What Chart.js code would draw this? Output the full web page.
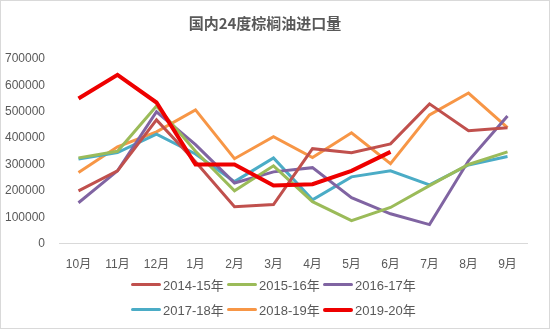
<!DOCTYPE html>
<html>
<head>
<meta charset="utf-8">
<script src="https://cdn.jsdelivr.net/npm/chart.js@4"></script>
<style>
  html, body { margin: 0; padding: 0; background: #fff; }
  #wrap {
    position: relative; width: 550px; height: 329px; box-sizing: border-box;
    border: 1px solid #d9d9d9; font-family: "Liberation Sans", "Noto Sans CJK SC", sans-serif;
  }
  #chart { position: absolute; left: 0; top: 0; }
  #legend {
    position: absolute; left: 0; top: 274px; width: 548px;
    display: flex; flex-direction: column; align-items: center; gap: 6px;
  }
  .row { display: flex; }
  .item { display: flex; align-items: center; width: 96px; font-size: 13px; color: #595959; }
  .swatch { width: 30px; height: 3px; margin-right: 2px; border-radius: 2px; }
</style>
</head>
<body>
<div id="wrap">
  <canvas id="chart" width="548" height="285"></canvas>
  <div id="legend"></div>
</div>
<script>
// ==========================================
// DATA
// ==========================================
const months = ['10月', '11月', '12月', '1月', '2月', '3月', '4月', '5月', '6月', '7月', '8月', '9月'];

const s2014_15 = [200000, 276000, 469000, 310000, 140000, 148000, 360000, 345000, 378000, 530000, 428000, 439000];
const s2015_16 = [325000, 350000, 522000, 350000, 200000, 295000, 159000, 87000, 137000, 220000, 300000, 348000];
const s2016_17 = [155000, 276000, 500000, 375000, 230000, 272000, 288000, 174000, 113000, 72000, 314000, 484000];
const s2017_18 = [321000, 345000, 415000, 340000, 235000, 325000, 166000, 253000, 276000, 223000, 298000, 330000];
const s2018_19 = [270000, 367000, 424000, 507000, 322000, 405000, 326000, 420000, 303000, 488000, 571000, 440000];
const s2019_20 = [550000, 640000, 535000, 300000, 300000, 220000, 225000, 276000, 348000];

const seriesNames = ['2014-15年', '2015-16年', '2016-17年', '2017-18年', '2018-19年', '2019-20年'];
const seriesData = [s2014_15, s2015_16, s2016_17, s2017_18, s2018_19, s2019_20];
const seriesColors = ['#c0504d', '#9bbb59', '#8064a2', '#4bacc6', '#f79646', '#ee0000'];
const seriesWidths = [3, 3, 3, 3, 3, 4];

// ==========================================
// CHART
// ==========================================
const datasets = seriesNames.map((name, i) => ({
    label: name,
    data: seriesData[i],
    borderColor: seriesColors[i],
    backgroundColor: seriesColors[i],
    borderWidth: seriesWidths[i],
    pointRadius: 0,
    tension: 0,
    fill: false,
    order: i === 5 ? 0 : 1
}));

new Chart(document.getElementById('chart'), {
    type: 'line',
    data: { labels: months, datasets: datasets },
    options: {
        responsive: false,
        animation: false,
        layout: { padding: { left: 2, right: 22, top: 0, bottom: 0 } },
        plugins: {
            legend: { display: false },
            tooltip: { enabled: false },
            title: {
                display: true,
                text: '国内24度棕榈油进口量',
                color: '#595959',
                font: { size: 15, weight: 'bold', family: '"Noto Sans CJK SC", sans-serif' },
                padding: { top: 13, bottom: 27 }
            }
        },
        scales: {
            x: {
                offset: true,
                grid: { display: false, drawTicks: false },
                border: { color: '#d9d9d9' },
                ticks: { color: '#595959', font: { size: 12, family: '"Liberation Sans", "Noto Sans CJK SC", sans-serif' }, padding: 14 }
            },
            y: {
                min: 0, max: 700000,
                grid: { display: false, drawTicks: false },
                border: { display: false },
                afterFit: s => { s.width = 56; },
                ticks: {
                    stepSize: 100000, color: '#595959',
                    font: { size: 12, family: '"Liberation Sans", sans-serif' }, padding: 14,
                    callback: v => String(v)
                }
            }
        }
    }
});

// ==========================================
// HTML LEGEND (3 per row)
// ==========================================
const legendEl = document.getElementById('legend');
[[0, 1, 2], [3, 4, 5]].forEach(idx => {
    const row = document.createElement('div');
    row.className = 'row';
    idx.forEach(i => {
        const item = document.createElement('div');
        item.className = 'item';
        item.innerHTML = `<span class="swatch" style="background:${seriesColors[i]};height:${seriesWidths[i]}px"></span>${seriesNames[i]}`;
        row.appendChild(item);
    });
    legendEl.appendChild(row);
});
</script>
</body>
</html>
